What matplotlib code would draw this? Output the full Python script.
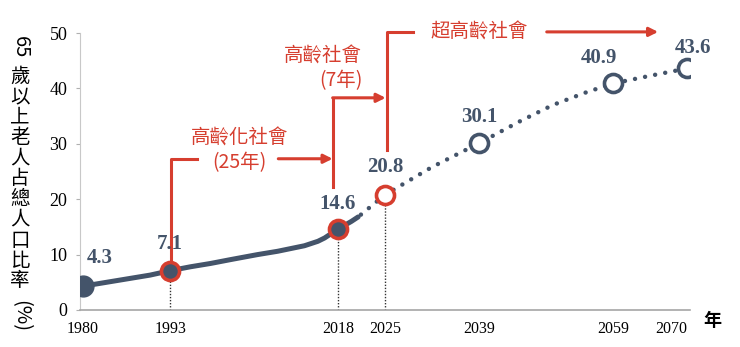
import numpy as np
import matplotlib.pyplot as plt

# Share of population aged 65+ (%), observed part (solid line)
hist_years = [1980, 1983, 1986, 1990, 1993, 1996, 1999, 2002, 2006, 2009, 2011, 2013, 2015, 2016, 2017, 2018, 2019, 2020, 2021]
hist_vals = [4.3, 4.9, 5.5, 6.3, 7.1, 7.8, 8.4, 9.1, 10.0, 10.6, 11.1, 11.6, 12.4, 13.0, 13.8, 14.6, 15.3, 16.0, 16.8]

# Projection (dotted line)
proj_years = [2021, 2025, 2032, 2039, 2045, 2050, 2055, 2059, 2065, 2070]
proj_vals = [16.8, 20.8, 25.8, 30.1, 34.0, 37.0, 39.3, 40.9, 42.4, 43.6]

# Labelled milestones
key_years = [1980, 1993, 2018, 2025, 2039, 2059, 2070]
key_vals = [4.3, 7.1, 14.6, 20.8, 30.1, 40.9, 43.6]
key_labels = ['4.3', '7.1', '14.6', '20.8', '30.1', '40.9', '43.6']

ylabel_text = '65歲以上老人占總人口比率(%)'

slate = '#44546a'
red = '#d63e2f'
serif = 'Liberation Serif'
cjk = ['Noto Sans CJK TC', 'DejaVu Sans']

fig = plt.figure(figsize=(7.4, 3.47), dpi=100)
W, H = 740, 347
ax = fig.add_axes([80 / W, 37 / H, 610 / W, 277 / H])

ax.set_xlim(1980 - 3 / 6.711, 2070 + 3 / 6.711)
ax.set_ylim(0, 50)

for s in ['top', 'right']:
    ax.spines[s].set_visible(False)
ax.spines['left'].set_color('#c8c8c8')
ax.spines['bottom'].set_color('#a6a6a6')
ax.spines['bottom'].set_linewidth(1.2)

ax.set_yticks(range(0, 51, 10))
ax.tick_params(axis='y', length=3, color='#b0b0b0', pad=6, labelsize=13)
ax.set_xticks(key_years)
ax.set_xticklabels([str(y) for y in key_years])
ax.tick_params(axis='x', length=0, pad=8, labelsize=11.5)
for lab in ax.get_xticklabels() + ax.get_yticklabels():
    lab.set_fontfamily(serif)
ax.get_xticklabels()[-1].set_horizontalalignment('right')

# drop lines to the axis
for yr, v in zip(key_years[1:4], key_vals[1:4]):
    ax.plot([yr, yr], [0, v], ls=(0, (1, 1.2)), lw=1, color='#333333', zorder=1)

ax.plot(hist_years, hist_vals, color=slate, lw=3.6, solid_capstyle='round',
        solid_joinstyle='round', zorder=2)
ax.plot(proj_years, proj_vals, color=slate, lw=3.2, ls=(1.5, (0.01, 2.3)),
        dash_capstyle='round', zorder=2)

# markers
ax.plot(key_years[0], key_vals[0], 'o', ms=15, color=slate, zorder=4)
ax.plot(key_years[1:3], key_vals[1:3], 'o', ms=13, mfc=slate, mec=red, mew=2.6, zorder=4, ls='none')
ax.plot(key_years[3], key_vals[3], 'o', ms=13, mfc='white', mec=red, mew=2.6, zorder=4)
ax.plot(key_years[4:], key_vals[4:], 'o', ms=13, mfc='white', mec=slate, mew=2.6, zorder=4, ls='none')

offsets = [(12, 20), (0, 19), (0, 18), (0, 20), (0, 19), (-10, 18), (4, 15)]
for yr, v, t, off in zip(key_years, key_vals, key_labels, offsets):
    ax.annotate(t, (yr, v), xytext=off, textcoords='offset points', ha='center', va='center',
                fontsize=15, fontweight='bold', color=slate, family=serif, zorder=5)

# stage brackets
lw_r = 2.2
arrow = dict(arrowstyle='-|>', color=red, lw=lw_r, mutation_scale=13, shrinkA=0, shrinkB=0)

ax.plot([1993.1, 1993.1, 1997.0], [8.7, 27.3, 27.3], color=red, lw=lw_r, zorder=3)
ax.annotate('', xy=(2017.2, 27.3), xytext=(2009.1, 27.3), arrowprops=arrow)
ax.text(2003.3, 31.1, '高齡化社會', ha='center', va='center', fontsize=14, color=red, family=cjk)
ax.text(2003.3, 26.6, '(25年)', ha='center', va='center', fontsize=14, color=red, family=cjk)

ax.plot([2017.2, 2017.2], [22.2, 38.3], color=red, lw=lw_r, zorder=3)
ax.annotate('', xy=(2025.1, 38.3), xytext=(2017.2, 38.3), arrowprops=arrow)
ax.text(2021.6, 45.9, '高齡社會', ha='right', va='center', fontsize=14, color=red, family=cjk)
ax.text(2021.6, 41.4, '(7年)', ha='right', va='center', fontsize=14, color=red, family=cjk)

ax.plot([2025.3, 2025.3, 2029.2], [28.9, 50.2, 50.2], color=red, lw=lw_r, zorder=3, clip_on=False)
ax.annotate('', xy=(2065.7, 50.2), xytext=(2049.1, 50.2), arrowprops=arrow, annotation_clip=False)
ax.text(2039.1, 50.2, '超高齡社會', ha='center', va='center', fontsize=14, color=red, family=cjk,
        clip_on=False)

# x unit
fig.text(712 / W, 1 - 320 / H, '年', ha='center', va='center', fontsize=13,
         fontweight='bold', family=cjk)

# vertical y label: digits and parentheses rotated, CJK glyphs upright
fig.text(20 / W, 1 - 47 / H, ylabel_text[:2], rotation=270, ha='center', va='center',
         fontsize=14.5, fontweight='medium', family=cjk)
chars = ylabel_text[2:-3]
for i, ch in enumerate(chars):
    fig.text(20 / W, 1 - (76 + 20.5 * i) / H, ch, ha='center', va='center', fontsize=14,
             fontweight='medium', family=cjk)
fig.text(20 / W, 1 - 316 / H, ylabel_text[-3:], rotation=270, ha='center', va='center',
         fontsize=14.5, fontweight='medium', family=cjk)

fig.savefig('out.png', dpi=100)
